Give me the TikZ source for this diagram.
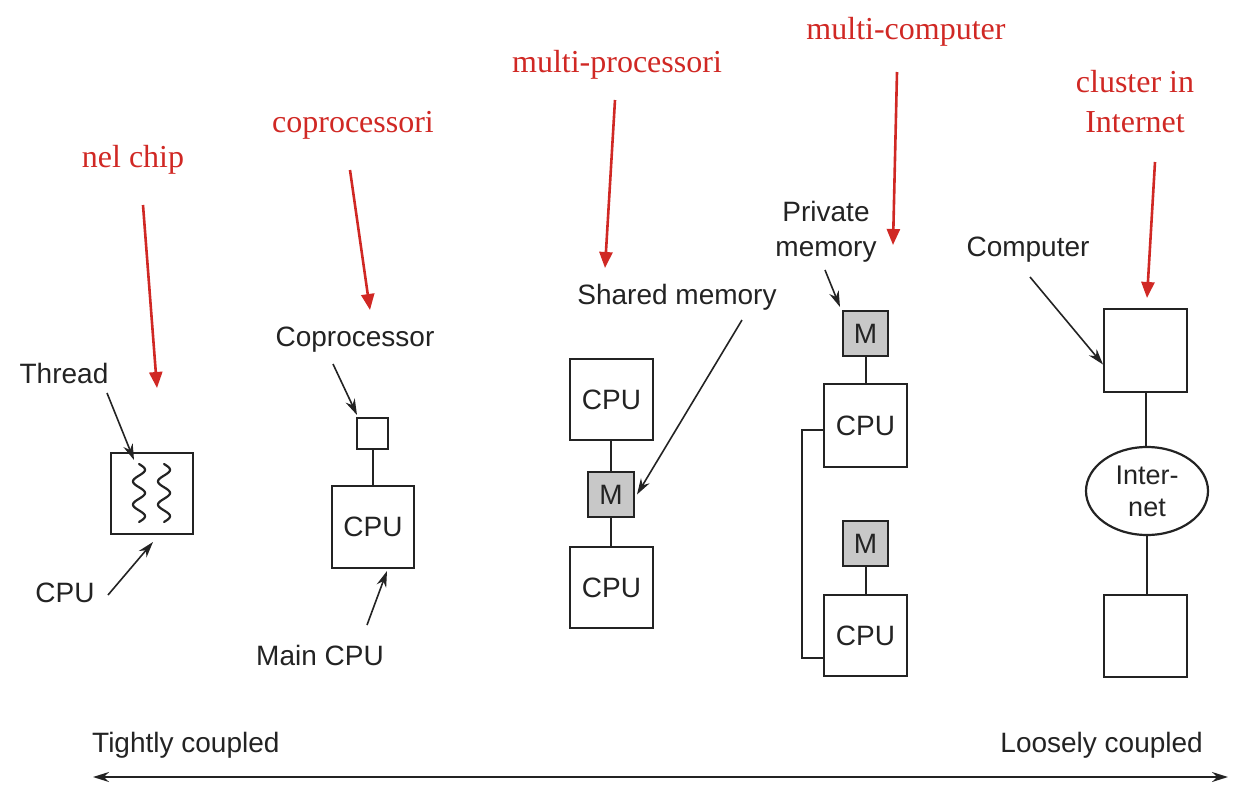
\documentclass[tikz,border=0pt]{standalone}
\usepackage{fontspec}
\setmainfont{Liberation Serif}
\setsansfont{Liberation Sans}
\usetikzlibrary{arrows.meta,shapes.geometric,calc}
\definecolor{redlbl}{RGB}{208,40,36}
\definecolor{ink}{RGB}{35,35,35}
\definecolor{memgray}{RGB}{200,200,200}
\begin{document}
\begin{tikzpicture}[x=1pt,y=-1pt,
 box/.style={draw=ink,line width=2pt,inner sep=0pt,text=ink,font=\sffamily\fontsize{28}{30}\selectfont},
 mem/.style={box,fill=memgray},
 lbl/.style={text=ink,font=\sffamily\fontsize{28}{35}\selectfont,inner sep=0pt,align=center},
 cat/.style={text=redlbl,font=\rmfamily\fontsize{32}{40}\selectfont,inner sep=0pt,align=center},
 redarr/.style={draw=redlbl,line width=2.6pt,-{Triangle[length=16pt,width=13pt]}},
 blkarr/.style={draw=ink,line width=1.6pt,-{Stealth[length=16pt,width=10pt]}},
 wire/.style={draw=ink,line width=2pt}]
\useasboundingbox (0,0) rectangle (1248,796);

% red category labels
\node[cat] (c1) at (133,160) {nel chip};
\node[cat] (c2) at (353,125) {coprocessori};
\node[cat] (c3) at (617,65) {multi-processori};
\node[cat] (c4) at (906,32) {multi-computer};
\node[cat] (c5) at (1135,102) {cluster in\\Internet};
\coordinate (r1a) at (143,205); \coordinate (r1b) at (157,388);
\coordinate (r2a) at (350,170); \coordinate (r2b) at (370,310);
\coordinate (r3a) at (615,100); \coordinate (r3b) at (605,268);
\coordinate (r4a) at (897,72);  \coordinate (r4b) at (893,245);
\coordinate (r5a) at (1155,162); \coordinate (r5b) at (1147,298);
\draw[redarr] (r1a) -- (r1b);
\draw[redarr] (r2a) -- (r2b);
\draw[redarr] (r3a) -- (r3b);
\draw[redarr] (r4a) -- (r4b);
\draw[redarr] (r5a) -- (r5b);

% nel chip
\node[box,minimum width=82,minimum height=81] (chip) at (152,493.5) {};
\draw[ink,line width=2.2pt,line cap=round] plot[domain=0:1,samples=80,smooth] ({139+6*sin(900*\x)},{464+58*\x});
\draw[ink,line width=2.2pt,line cap=round] plot[domain=0:1,samples=80,smooth] ({164+6*sin(900*\x)},{464+58*\x});
\node[lbl] (thread) at (64,373) {Thread};
\node[lbl] (chipcpu) at (65,593) {CPU};
\coordinate (tha) at (107,393); \coordinate (thb) at (134,460);
\coordinate (cpa) at (108,595); \coordinate (cpb) at (153,542);
\draw[blkarr] (tha) -- (thb);
\draw[blkarr] (cpa) -- (cpb);

% coprocessor
\node[box,minimum width=31,minimum height=31] (cop) at (372.5,433.5) {};
\node[box,minimum width=82,minimum height=82] (mcpu) at (373,527) {CPU};
\draw[wire] (cop.south) -- (cop.south |- mcpu.north);
\node[lbl] (coplbl) at (355,340) {Coprocessor};
\node[lbl] (mainlbl) at (320,655) {Main CPU};
\coordinate (coa) at (333,364); \coordinate (cob) at (357,415);
\coordinate (mca) at (367,625); \coordinate (mcb) at (387,571);
\draw[blkarr] (coa) -- (cob);
\draw[blkarr] (mca) -- (mcb);

% multiprocessor
\node[box,minimum width=83,minimum height=81] (mp1) at (611.5,399.5) {CPU};
\node[mem,minimum width=46,minimum height=45] (mpm) at (611,494.5) {M};
\node[box,minimum width=83,minimum height=81] (mp2) at (611.5,587.5) {CPU};
\draw[wire] (mpm.north) -- (mpm.north |- mp1.south);
\draw[wire] (mpm.south) -- (mpm.south |- mp2.north);
\node[lbl] (shlbl) at (677,297) {Shared memory};
\coordinate (sha) at (742,320);
\draw[blkarr] (sha) -- ([xshift=2pt]mpm.east);

% multicomputer
\node[mem,minimum width=45,minimum height=45] (mcm1) at (865.5,333.5) {M};
\node[box,minimum width=83,minimum height=83] (mcc1) at (865.5,425.5) {CPU};
\node[mem,minimum width=45,minimum height=45] (mcm2) at (865.5,543.5) {M};
\node[box,minimum width=83,minimum height=81] (mcc2) at (865.5,635.5) {CPU};
\draw[wire] (mcm1.south) -- (mcm1.south |- mcc1.north);
\draw[wire] (mcm2.south) -- (mcm2.south |- mcc2.north);
\coordinate (brt) at ($(mcc1.west)+(0,4.5)$);
\coordinate (brb) at ($(mcc2.west)+(0,22.5)$);
\draw[wire] (brt) -- (802,430) -- (802,658) -- (brb);
\node[lbl] (pvlbl) at (826,232) {Private\\memory};
\coordinate (pva) at (825,270);
\draw[blkarr] (pva) -- ([xshift=-2pt,yshift=3pt]mcm1.north west);

% cluster
\node[box,minimum width=83,minimum height=83] (cl1) at (1145.5,350.5) {};
\node[draw=ink,line width=2.2pt,ellipse,minimum width=122,minimum height=88,inner sep=0pt,align=center,text=ink,font=\sffamily\fontsize{27}{32}\selectfont] (inet) at (1147,491) {Inter-\\net};
\node[box,minimum width=83,minimum height=82] (cl2) at (1145.5,636) {};
\draw[wire] (cl1.south) -- (cl1.south |- inet.north);
\draw[wire] (inet.south) -- (inet.south |- cl2.north);
\node[lbl] (cmplbl) at (1028,250) {Computer};
\coordinate (cma) at (1030,277);
\draw[blkarr] (cma) -- ([yshift=-14pt]cl1.west);

% coupling axis
\node[lbl,anchor=west] (tight) at (92,745) {Tightly coupled};
\node[lbl,anchor=east] (loose) at (1203,745) {Loosely coupled};
\coordinate (axl) at (93,777); \coordinate (axr) at (1228,777);
\draw[draw=ink,line width=2pt,{Stealth[length=16pt,width=10pt]}-{Stealth[length=16pt,width=10pt]}] (axl) -- (axr);
\end{tikzpicture}
\end{document}
